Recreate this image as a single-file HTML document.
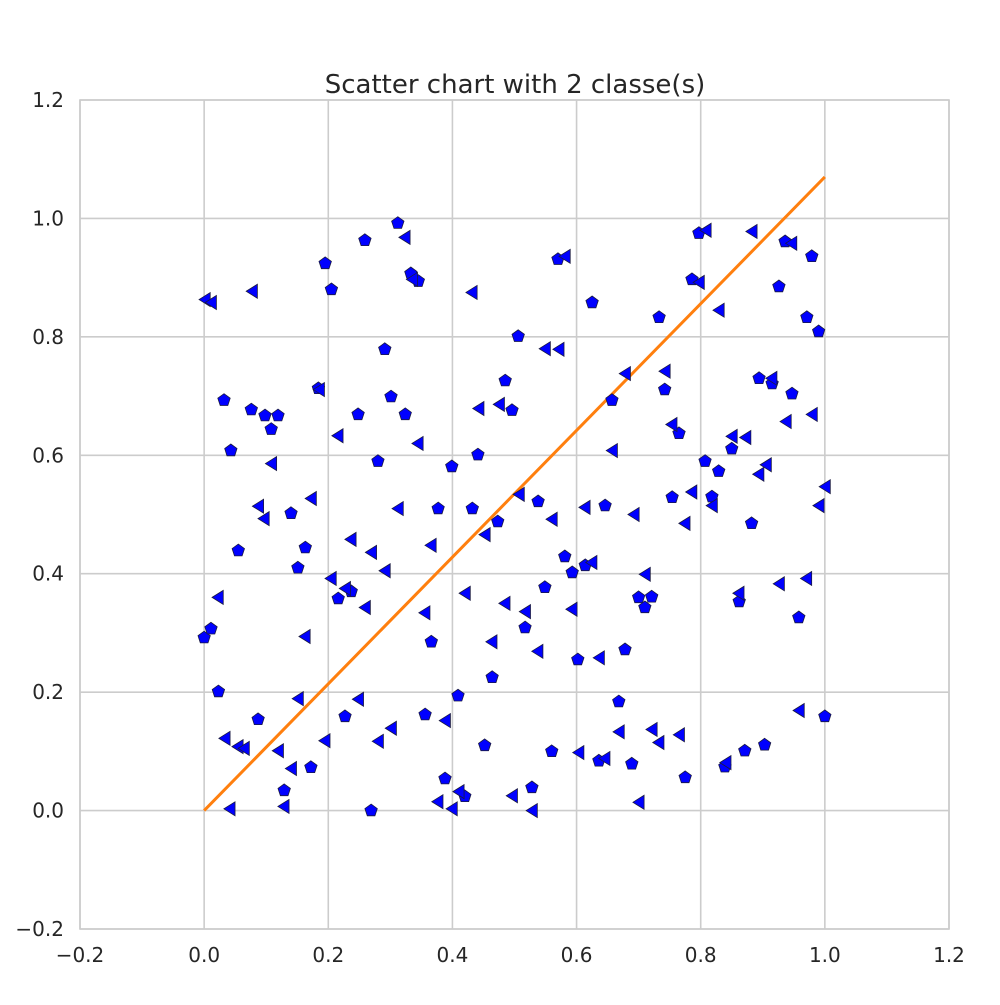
<!DOCTYPE html>
<html><head><meta charset="utf-8"><style>
body{margin:0;background:#fff;}
svg text{font-family:"DejaVu Sans","Liberation Sans",sans-serif;fill:#262626;}
</style></head><body>
<svg id="chart" width="1000" height="1000" xmlns="http://www.w3.org/2000/svg">
<rect width="1000" height="1000" fill="#fff"/>
<g id="grid"></g>
<g id="line"></g>
<g id="marks"></g>
<g id="ticks"></g>
<text x="515" y="93" text-anchor="middle" font-size="26">Scatter chart with 2 classe(s)</text>
</svg>
<script>
const xTicks=[-0.2,0.0,0.2,0.4,0.6,0.8,1.0,1.2];
const yTicks=[-0.2,0.0,0.2,0.4,0.6,0.8,1.0,1.2];
const lineX=[0,1];
const lineY=[0,1.07];
const pentX=[0.000,0.011,0.023,0.032,0.043,0.055,0.076,0.087,0.098,0.108,0.119,0.129,0.140,0.151,0.163,0.172,0.184,0.195,0.205,0.216,0.227,0.237,0.248,0.259,0.269,0.280,0.291,0.301,0.312,0.324,0.333,0.345,0.356,0.366,0.377,0.388,0.399,0.409,0.420,0.432,0.441,0.452,0.464,0.473,0.485,0.496,0.506,0.517,0.528,0.538,0.549,0.560,0.570,0.581,0.593,0.602,0.614,0.625,0.636,0.646,0.657,0.668,0.678,0.689,0.700,0.710,0.721,0.733,0.742,0.754,0.765,0.775,0.786,0.797,0.807,0.818,0.829,0.839,0.850,0.862,0.871,0.882,0.894,0.903,0.915,0.926,0.936,0.947,0.958,0.971,0.979,0.990,1.000];
const pentY=[0.292,0.307,0.201,0.693,0.608,0.439,0.677,0.154,0.667,0.644,0.667,0.034,0.502,0.410,0.444,0.073,0.713,0.924,0.880,0.358,0.159,0.370,0.669,0.963,0.000,0.590,0.779,0.699,0.992,0.669,0.907,0.894,0.162,0.285,0.510,0.054,0.581,0.194,0.024,0.510,0.601,0.110,0.225,0.488,0.726,0.676,0.801,0.309,0.039,0.522,0.377,0.100,0.931,0.429,0.402,0.255,0.414,0.858,0.084,0.515,0.693,0.184,0.272,0.079,0.360,0.343,0.361,0.833,0.711,0.529,0.637,0.056,0.897,0.975,0.590,0.530,0.573,0.074,0.611,0.353,0.101,0.485,0.730,0.111,0.721,0.885,0.961,0.704,0.326,0.833,0.936,0.809,0.159];
const triX=[0.003,0.013,0.024,0.035,0.043,0.056,0.066,0.079,0.089,0.098,0.110,0.121,0.130,0.142,0.153,0.164,0.174,0.187,0.196,0.206,0.217,0.229,0.238,0.250,0.261,0.271,0.282,0.293,0.303,0.314,0.325,0.337,0.346,0.357,0.367,0.378,0.390,0.401,0.412,0.422,0.433,0.444,0.454,0.465,0.477,0.486,0.498,0.509,0.519,0.530,0.539,0.551,0.562,0.573,0.583,0.594,0.605,0.615,0.626,0.638,0.647,0.659,0.670,0.680,0.694,0.702,0.712,0.723,0.734,0.744,0.755,0.767,0.776,0.787,0.799,0.810,0.820,0.831,0.842,0.852,0.863,0.874,0.884,0.895,0.907,0.916,0.928,0.939,0.948,0.960,0.972,0.981,0.992,1.002];
const triY=[0.863,0.858,0.360,0.122,0.003,0.108,0.105,0.877,0.514,0.493,0.586,0.101,0.007,0.071,0.189,0.294,0.527,0.711,0.118,0.392,0.633,0.375,0.458,0.188,0.343,0.436,0.117,0.405,0.139,0.510,0.968,0.897,0.620,0.334,0.448,0.015,0.152,0.003,0.032,0.367,0.875,0.679,0.466,0.285,0.686,0.350,0.025,0.534,0.336,0.000,0.269,0.780,0.492,0.779,0.936,0.340,0.098,0.512,0.419,0.258,0.088,0.608,0.133,0.738,0.500,0.014,0.399,0.137,0.115,0.742,0.652,0.128,0.485,0.538,0.892,0.980,0.515,0.845,0.081,0.632,0.367,0.630,0.978,0.568,0.584,0.730,0.383,0.657,0.958,0.169,0.392,0.669,0.515,0.547];
const NS='http://www.w3.org/2000/svg';
const L=80,R=949,T=100,B=929;
function sx(v){return L+(v+0.2)/1.4*(R-L);}
function sy(v){return B-(v+0.2)/1.4*(B-T);}
function mk(tag,attrs,parent){const e=document.createElementNS(NS,tag);for(const k in attrs)e.setAttribute(k,attrs[k]);document.getElementById(parent).appendChild(e);return e;}
xTicks.forEach(t=>{
  const g=mk('line',{x1:sx(t),x2:sx(t),y1:T,y2:B,stroke:'#cccccc','stroke-width':1.6},'grid');
  
  
  const tx=mk('text',{x:sx(t),y:B+33,'text-anchor':'middle','font-size':20},'ticks');
  tx.textContent=t.toFixed(1).replace('-','\u2212');
  
  
});
yTicks.forEach(t=>{
  const g=mk('line',{x1:L,x2:R,y1:sy(t),y2:sy(t),stroke:'#cccccc','stroke-width':1.6},'grid');
  
  
  const tx=mk('text',{x:L-16,y:sy(t)+7,'text-anchor':'end','font-size':20},'ticks');
  tx.textContent=t.toFixed(1).replace('-','\u2212');
  
  
});
const fr=mk('rect',{x:L,y:T,width:R-L,height:B-T,fill:'none',stroke:'#cccccc','stroke-width':1.6},'grid');


const ln=mk('line',{x1:sx(lineX[0]),y1:sy(lineY[0]),x2:sx(lineX[1]),y2:sy(lineY[1]),stroke:'#ff7f0e','stroke-width':3},'line');


pentX.forEach((x,i)=>{
  const cx=sx(x),cy=sy(pentY[i]),r=6.5;let p=[];
  for(let k=0;k<5;k++){const a=-Math.PI/2+k*2*Math.PI/5;p.push((cx+r*Math.cos(a)).toFixed(1)+','+(cy+r*Math.sin(a)).toFixed(1));}
  const e=mk('polygon',{points:p.join(' '),fill:'#0000ff',stroke:'#1a1a40','stroke-width':0.8},'marks');
  
  
});
triX.forEach((x,i)=>{
  const cx=sx(x),cy=sy(triY[i]),r=7;
  const p=[(cx-r)+','+cy,(cx+r*0.6)+','+(cy-r),(cx+r*0.6)+','+(cy+r)].join(' ');
  const e=mk('polygon',{points:p,fill:'#0000ff',stroke:'#1a1a40','stroke-width':0.8},'marks');
  
  
});
</script>
</body></html>
